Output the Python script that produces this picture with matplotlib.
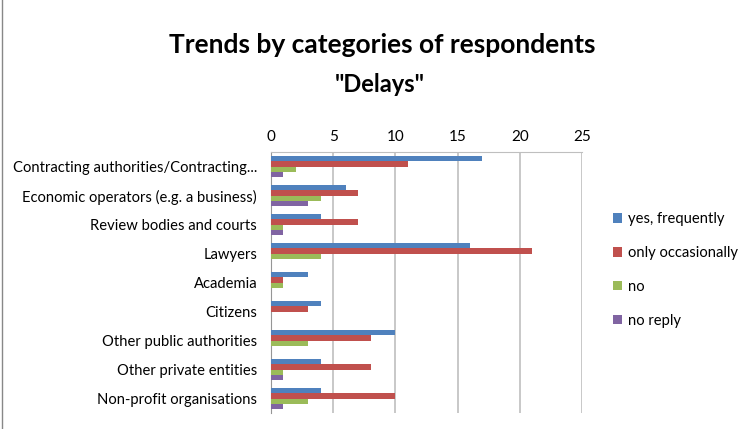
import matplotlib.pyplot as plt
import numpy as np

plt.rcParams['font.family'] = ['Lato', 'DejaVu Sans']

categories = ['Contracting authorities/Contracting...',
              'Economic operators (e.g. a business)',
              'Review bodies and courts',
              'Lawyers',
              'Academia',
              'Citizens',
              'Other public authorities',
              'Other private entities',
              'Non-profit organisations']
series_names = ['yes, frequently', 'only occasionally', 'no', 'no reply']
yes_frequently = [17, 6, 4, 16, 3, 4, 10, 4, 4]
only_occasionally = [11, 7, 7, 21, 1, 3, 8, 8, 10]
no = [2, 4, 1, 4, 1, 0, 3, 1, 3]
no_reply = [1, 3, 1, 0, 0, 0, 0, 1, 1]
colors = ['#4f81bd', '#c0504d', '#9bbb59', '#8064a2']
x_ticks = [0, 5, 10, 15, 20, 25]

fig = plt.figure(figsize=(7.42, 4.29), dpi=100)
ax = fig.add_axes([271 / 742, 1 - 413 / 429, (582 - 271) / 742, (413 - 152) / 429])

y = np.arange(len(categories))
h = 0.185
series = [yes_frequently, only_occasionally, no, no_reply]
for i, vals in enumerate(series):
    ax.barh(y - 1.5 * h + i * h, vals, height=h, color=colors[i],
            label=series_names[i], zorder=3)

ax.set_ylim(len(categories) - 0.5, -0.5)
ax.set_xlim(0, 25)
ax.set_xticks(x_ticks)
ax.xaxis.tick_top()
ax.tick_params(axis='x', length=0, labelsize=11, pad=6)
ax.tick_params(axis='y', length=0, labelsize=10.6, pad=10)
ax.set_yticks(y)
ax.set_yticklabels(categories)
ax.grid(axis='x', color='#bfbfbf', linewidth=1.2, zorder=0)
for s in ['right', 'bottom']:
    ax.spines[s].set_visible(False)
ax.spines['left'].set_color('#969696')
ax.spines['top'].set_color('#bfbfbf')

fig.text(0.515, 1 - 45 / 429, 'Trends by categories of respondents', ha='center',
         va='center', fontsize=19, fontweight='bold')
fig.text(0.512, 1 - 85 / 429, '"Delays"', ha='center', va='center',
         fontsize=17, fontweight='bold')

ax.legend(loc='center left', bbox_to_anchor=(600 / 742, 1 - 270 / 429),
          bbox_transform=fig.transFigure, frameon=False, fontsize=10.6,
          handlelength=0.6, handleheight=0.6, handletextpad=0.4, labelspacing=1.35)

fig.add_artist(plt.Line2D([2 / 742, 2 / 742], [0, 1], color='#888888', lw=1))

fig.savefig('out.png', dpi=100)
